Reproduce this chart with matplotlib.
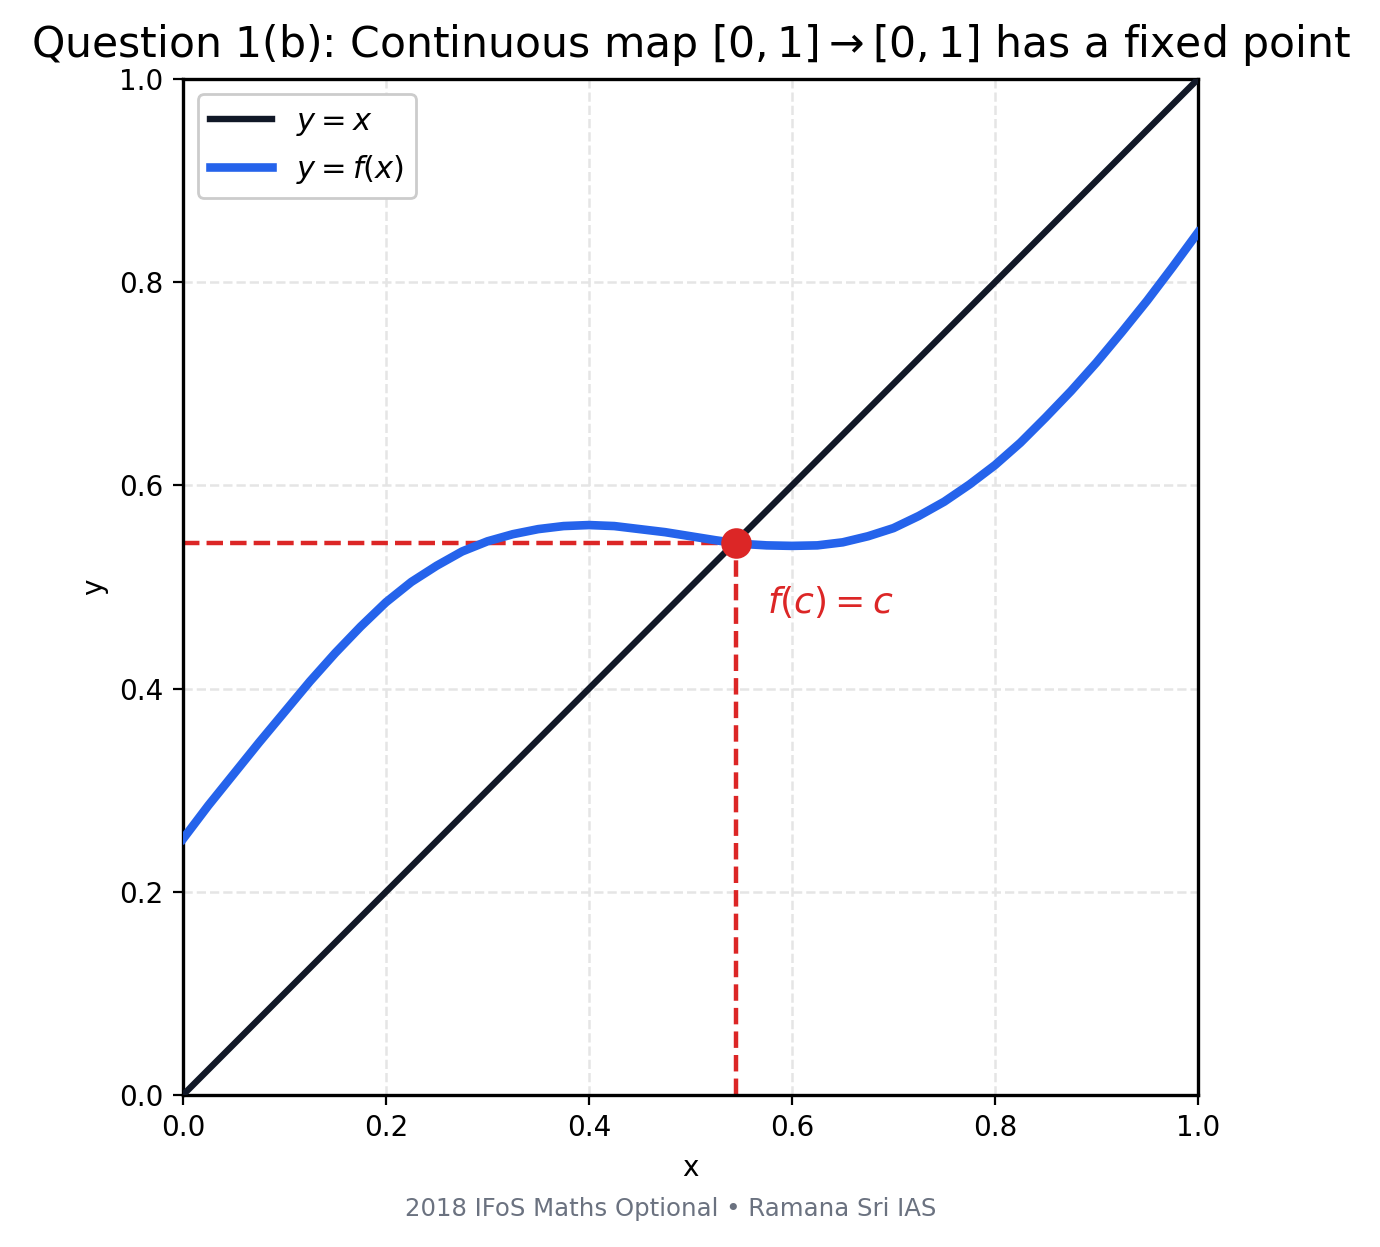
import matplotlib
matplotlib.use("Agg")
import matplotlib.pyplot as plt

# ── Data ─────────────────────────────────────────────────────────────────────
x_line = [0.0, 1.0]
y_line = [0.0, 1.0]

x_f = [0.000, 0.025, 0.050, 0.075, 0.100, 0.125, 0.150, 0.175, 0.200, 0.225,
       0.250, 0.275, 0.300, 0.325, 0.350, 0.375, 0.400, 0.425, 0.450, 0.475,
       0.500, 0.525, 0.550, 0.575, 0.600, 0.625, 0.650, 0.675, 0.700, 0.725,
       0.750, 0.775, 0.800, 0.825, 0.850, 0.875, 0.900, 0.925, 0.950, 0.975,
       1.000]
y_f = [0.252, 0.285, 0.316, 0.347, 0.377, 0.407, 0.435, 0.461, 0.485, 0.505,
       0.521, 0.535, 0.545, 0.552, 0.557, 0.560, 0.561, 0.560, 0.557, 0.554,
       0.550, 0.546, 0.5425, 0.541, 0.5405, 0.541, 0.544, 0.550, 0.558, 0.570,
       0.584, 0.601, 0.620, 0.642, 0.667, 0.693, 0.721, 0.751, 0.782, 0.815,
       0.849]

c_x = 0.545
c_y = 0.543
ticks = [0.0, 0.2, 0.4, 0.6, 0.8, 1.0]

BLACK = "#111827"
BLUE = "#2563eb"
RED = "#dc2626"
GREY = "#6b7280"

# ── Plot ─────────────────────────────────────────────────────────────────────
fig = plt.figure(figsize=(6.9, 6.235), dpi=200)
ax = fig.add_axes([0.1326, 0.1219, 0.7355, 0.8147])

ax.plot(x_line, y_line, color=BLACK, lw=2.3, label=r"$y = x$", zorder=3)
ax.plot(x_f, y_f, color=BLUE, lw=3.1, label=r"$y = f(x)$", zorder=3,
        solid_joinstyle="round")

ax.plot([0, c_x], [c_y, c_y], color=RED, lw=1.6, ls="--", zorder=2)
ax.plot([c_x, c_x], [0, c_y], color=RED, lw=1.6, ls="--", zorder=2)
ax.plot([c_x], [c_y], "o", color=RED, ms=10, zorder=5)
ax.text(c_x + 0.03, c_y - 0.058, r"$f(c) = c$", color=RED,
        fontsize=13, ha="left", va="center")

ax.set_xlim(0, 1)
ax.set_ylim(0, 1)
ax.set_xticks(ticks)
ax.set_yticks(ticks)
ax.tick_params(labelsize=10)
ax.set_xlabel("x", fontsize=10)
ax.set_ylabel("y", fontsize=10)
ax.set_title(r"Question 1(b): Continuous map $[0,1]\to[0,1]$ has a fixed point",
             fontsize=15.3, pad=8)
ax.grid(True, linestyle="--", color="#e5e5e5", lw=0.9)
for s in ax.spines.values():
    s.set_linewidth(1.2)

ax.legend(loc="upper left", fontsize=11, framealpha=1, edgecolor="#cccccc",
          handlelength=2.0)

fig.text(0.486, 0.0305, "2018 IFoS Maths Optional • Ramana Sri IAS",
         fontsize=8.8, color=GREY, ha="center", va="center")

fig.savefig("out.png", dpi=200)
plt.close(fig)
